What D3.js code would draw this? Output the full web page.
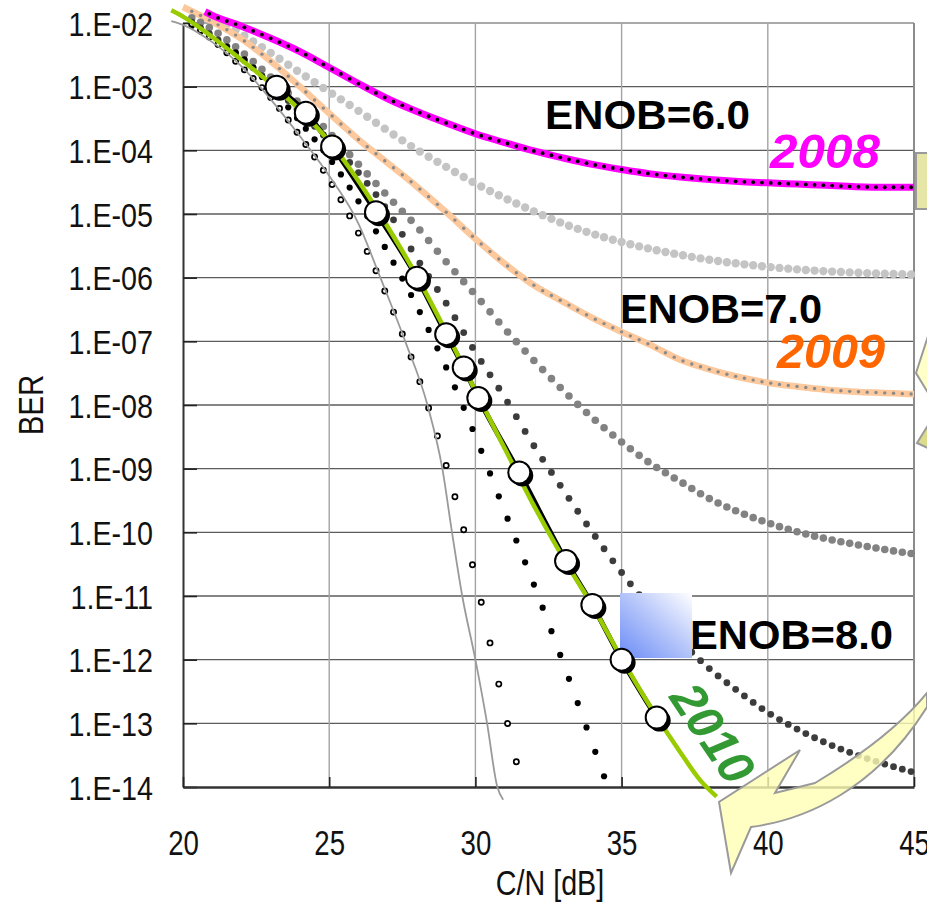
<!DOCTYPE html>
<html><head><meta charset="utf-8">
<script src="https://cdn.jsdelivr.net/npm/d3@7/dist/d3.min.js"></script>
<style>body{margin:0;background:#fff}svg{display:block}</style>
</head><body>
<script>
// ---------------- DATA ----------------
const cnFull = [20,21,22,23,24,25,26,27,28,29,30,31,32,33,34,35,36,37,38,39,40,41,42,43,44,45];

// ENOB=6.0 (2008) – magenta
const enob60_cn  = [20.75,21,22,23,24,25,26,27,28,29,30,31,32,33,34,35,36,37,38,39,40,41,42,43,44,45];
const enob60_ber = [1.51e-2,1.32e-2,8.91e-3,5.75e-3,3.55e-3,2.0e-3,1.12e-3,6.46e-4,4.07e-4,2.69e-4,1.82e-4,1.32e-4,9.77e-5,7.59e-5,6.03e-5,5.01e-5,4.27e-5,3.80e-5,3.47e-5,3.24e-5,3.09e-5,2.95e-5,2.82e-5,2.69e-5,2.63e-5,2.63e-5];

// ENOB=6.5 – light grey dots
const enob65_cn  = [21.5,22,23,24,25,26,27,28,29,30,31,32,33,34,35,36,37,38,39,40,41,42,43,44,45];
const enob65_ber = [9.55e-3,6.76e-3,3.39e-3,1.66e-3,8.32e-4,4.17e-4,2.04e-4,1.02e-4,5.50e-5,3.02e-5,1.78e-5,1.10e-5,7.08e-6,4.90e-6,3.63e-6,2.82e-6,2.29e-6,1.91e-6,1.66e-6,1.48e-6,1.35e-6,1.26e-6,1.20e-6,1.15e-6,1.12e-6];

// ENOB=7.0 (2009) – peach
const enob70_cn  = cnFull;
const enob70_ber = [1.78e-2,1.05e-2,5.62e-3,2.51e-3,1.0e-3,3.80e-4,1.48e-4,6.31e-5,2.69e-5,1.07e-5,4.07e-6,1.66e-6,7.59e-7,4.17e-7,2.34e-7,1.41e-7,8.71e-8,5.13e-8,3.63e-8,2.75e-8,2.24e-8,1.95e-8,1.74e-8,1.62e-8,1.55e-8,1.48e-8];

// ENOB=7.5 – mid grey dots
const enob75_cn  = cnFull;
const enob75_ber = [1.41e-2,7.94e-3,3.55e-3,1.41e-3,5.37e-4,1.91e-4,6.03e-5,1.91e-5,6.31e-6,1.78e-6,5.37e-7,1.58e-7,5.01e-8,1.70e-8,6.31e-9,2.63e-9,1.20e-9,6.31e-10,3.39e-10,2.09e-10,1.41e-10,1.02e-10,7.94e-11,6.46e-11,5.37e-11,4.57e-11];

// ENOB=8.0 – dark grey dots
const enob80_cn  = cnFull;
const enob80_ber = [1.26e-2,6.31e-3,2.82e-3,1.12e-3,3.98e-4,1.41e-4,4.47e-5,1.12e-5,2.0e-6,3.98e-7,6.76e-8,1.32e-8,2.29e-9,4.68e-10,1.0e-10,2.34e-11,6.31e-12,2.0e-12,7.24e-13,3.16e-13,1.48e-13,8.13e-14,4.90e-14,3.24e-14,2.29e-14,1.70e-14];

// ENOB=9.0 – black dots
const enob90_cn  = [20,21,22,23,24,25,26,27,28,29,30,31,32,33,34,34.5];
const enob90_ber = [1.12e-2,5.62e-3,2.95e-3,1.0e-3,2.82e-4,7.59e-5,1.58e-5,2.51e-6,3.55e-7,3.89e-8,3.24e-9,2.14e-10,1.51e-11,8.91e-13,4.79e-14,1.10e-14];

// ideal ADC – open small circles
const ideal_cn  = [20,21,22,23,24,25,26,27,28,29,30,31,31.5];
const ideal_ber = [1.20e-2,5.50e-3,2.04e-3,6.76e-4,1.66e-4,3.47e-5,5.01e-6,4.79e-7,3.16e-8,1.12e-9,2.0e-11,1.58e-13,1.58e-14];

// theory – thin grey line
const theory_cn  = [19.6,20,21,22,23,24,25,26,26.75,27.6,28.36,28.87,29.2,29.55,30.0,30.4,30.75,30.95];
const theory_ber = [1.07e-2,9.33e-3,5.01e-3,2.09e-3,6.31e-4,1.66e-4,3.98e-5,7.08e-6,1e-6,1e-7,1e-8,1e-9,1e-10,1e-11,1e-12,1e-13,1e-14,6.31e-15];

// 2010 – green line
const y2010_cn  = [19.6,20,21,22,23,24,25,26,27,28,29,30,31,32,33,34,35,36,37,37.7,38.25];
const y2010_ber = [1.58e-2,1.26e-2,6.03e-3,2.63e-3,1.12e-3,4.27e-4,1.38e-4,3.31e-5,6.31e-6,1.05e-6,1.41e-7,1.66e-8,2.09e-9,2.63e-10,3.98e-11,7.08e-12,1.05e-12,1.78e-13,3.55e-14,1.26e-14,7.08e-15];

// 2010 – measured points (big circles)
const meas_cn  = [23.2,24.2,25.1,26.6,28.0,29.0,29.6,30.1,31.5,33.1,34.0,35.0,36.2];
const meas_ber = [1.0e-3,3.89e-4,1.15e-4,1.07e-5,1.0e-6,1.29e-7,3.89e-8,1.29e-8,8.71e-10,3.55e-11,7.24e-12,1.0e-12,1.23e-13];

const xTicks = [20,25,30,35,40,45];
const yTicks = [1e-2,1e-3,1e-4,1e-5,1e-6,1e-7,1e-8,1e-9,1e-10,1e-11,1e-12,1e-13,1e-14];
const yTickLabels = ["1.E-02","1.E-03","1.E-04","1.E-05","1.E-06","1.E-07","1.E-08","1.E-09","1.E-10","1.E-11","1.E-12","1.E-13","1.E-14"];
const DOT_STEP = 0.3;

// ---------------- CHART ----------------
const W = 927, H = 902;
const FONT = "'Liberation Sans', Arial, Helvetica, sans-serif";
const svg = d3.select("body").append("svg").attr("width", W).attr("height", H);
const x = d3.scaleLinear().domain([20, 45]).range([183, 914]);
const y = d3.scaleLog().domain([1e-14, 1e-2]).range([787, 23]);
const pair = (c, b) => c.map((v, i) => [v, b[i]]);
const line = d3.line().x(d => x(d[0])).y(d => y(d[1])).curve(d3.curveMonotoneX);

// grid
const grid = svg.append("g");
grid.selectAll(".hg").data(yTicks.slice(1, -1)).join("line")
  .attr("x1", x(20)).attr("x2", x(45)).attr("y1", d => y(d)).attr("y2", d => y(d))
  .attr("stroke", "#5c5c5c").attr("stroke-width", 1.4);
grid.append("line").attr("x1", x(20)).attr("x2", x(45)).attr("y1", y(1e-2)).attr("y2", y(1e-2))
  .attr("stroke", "#8c8c8c").attr("stroke-width", 1.6);
grid.selectAll(".vg").data(xTicks.slice(1, -1)).join("line")
  .attr("x1", d => x(d)).attr("x2", d => x(d)).attr("y1", y(1e-2)).attr("y2", y(1e-14))
  .attr("stroke", "#a3a3a3").attr("stroke-width", 1.4);
grid.append("line").attr("x1", x(45)).attr("x2", x(45)).attr("y1", y(1e-2)).attr("y2", y(1e-14))
  .attr("stroke", "#8c8c8c").attr("stroke-width", 2);

// axes
const yAxis = svg.append("g").attr("transform", `translate(${x(20)},0)`)
  .call(d3.axisLeft(y).tickValues(yTicks).tickFormat((d, i) => yTickLabels[i]).tickSizeInner(-14).tickSizeOuter(0));
yAxis.select(".domain").attr("stroke", "#333").attr("stroke-width", 2);
yAxis.selectAll(".tick line").attr("stroke", "#222").attr("stroke-width", 1.6);
yAxis.selectAll(".tick text").attr("x", 0).attr("dy", null).attr("y", 12)
  .attr("transform", "translate(-30,0) scale(0.87,1)")
  .attr("font-family", FONT).attr("font-size", 33).attr("fill", "#111").attr("text-anchor", "end");

const xAxis = svg.append("g").attr("transform", `translate(0,${y(1e-14)})`)
  .call(d3.axisBottom(x).tickValues(xTicks).tickFormat(d3.format("d")).tickSizeInner(-10).tickSizeOuter(0));
xAxis.select(".domain").attr("stroke", "#333").attr("stroke-width", 2.5);
xAxis.selectAll(".tick line").attr("stroke", "#222").attr("stroke-width", 1.6);
xAxis.selectAll(".tick text").attr("dy", null).attr("y", 68)
  .attr("transform", "scale(0.79,1)")
  .attr("font-family", FONT).attr("font-size", 35).attr("fill", "#111");

svg.append("text").attr("transform", "translate(550,895) scale(0.82,1)")
  .attr("text-anchor", "middle").attr("font-family", FONT).attr("font-size", 35).attr("fill", "#111").text("C/N [dB]");
svg.append("text").attr("transform", "translate(43,405) rotate(-90) scale(0.82,1)")
  .attr("text-anchor", "middle").attr("font-family", FONT).attr("font-size", 36).attr("fill", "#111").text("BER");

// helpers
const plot = svg.append("g");
function dotsAlong(data, r, style) {
  const p = plot.append("path").attr("d", line(data)).attr("fill", "none").attr("stroke", "none");
  const node = p.node(), L = node.getTotalLength();
  const c0 = data[0][0], c1 = data[data.length - 1][0];
  const cs = [];
  for (let k = 1; k < 200; k++) { const c = (200 + 10 * DOT_STEP * k) / 10; if (c > c1 + 1e-9) break; if (c >= c0 - 1e-9) cs.push(c); }
  const pts = cs.map(c => {
    const px = x(c); let lo = 0, hi = L;
    for (let i = 0; i < 40; i++) { const m = (lo + hi) / 2; if (node.getPointAtLength(m).x < px) lo = m; else hi = m; }
    return node.getPointAtLength((lo + hi) / 2);
  });
  const g = plot.append("g");
  g.selectAll("circle").data(pts).join("circle").attr("cx", d => d.x).attr("cy", d => d.y).attr("r", r)
    .attr("fill", style.fill).attr("stroke", style.stroke || "none").attr("stroke-width", style.sw || 0);
}
function drawLine(data, color, width) {
  plot.append("path").attr("d", line(data)).attr("fill", "none").attr("stroke", color)
    .attr("stroke-width", width).attr("stroke-linejoin", "round").attr("stroke-linecap", "butt");
}

// series
dotsAlong(pair(enob65_cn, enob65_ber), 4.2, { fill: "#c4c4c4" });
drawLine(pair(enob70_cn, enob70_ber), "#fcc89c", 6.5);
dotsAlong(pair(enob70_cn, enob70_ber), 1.7, { fill: "#8a8a8a" });
drawLine(pair(enob60_cn, enob60_ber), "#ff00ff", 7);
dotsAlong(pair(enob60_cn, enob60_ber), 1.9, { fill: "#000" });
dotsAlong(pair(enob75_cn, enob75_ber), 3.8, { fill: "#828282" });
dotsAlong(pair(enob80_cn, enob80_ber), 3.4, { fill: "#3c3c3c" });
dotsAlong(pair(enob90_cn, enob90_ber), 3.1, { fill: "#000" });
dotsAlong(pair(ideal_cn, ideal_ber), 2.6, { fill: "#fff", stroke: "#000", sw: 1.7 });
drawLine(pair(theory_cn, theory_ber), "#9a9a9a", 1.8);

// blue square (behind circles)
const defs = svg.append("defs");
const lg = defs.append("linearGradient").attr("id", "bluegrad").attr("x1", "0").attr("y1", "1").attr("x2", "1").attr("y2", "0");
lg.append("stop").attr("offset", "0").attr("stop-color", "#6a8cf6");
lg.append("stop").attr("offset", "0.55").attr("stop-color", "#b9c8fa");
lg.append("stop").attr("offset", "1").attr("stop-color", "#ffffff");
plot.append("rect").attr("x", 620).attr("y", 593).attr("width", 72).attr("height", 65).attr("fill", "url(#bluegrad)");

drawLine(pair(meas_cn, meas_ber), "#000", 5);
drawLine(pair(y2010_cn, y2010_ber), "#99cc00", 4.5);
const meas = pair(meas_cn, meas_ber);
plot.append("g").selectAll("circle").data(meas).join("circle")
  .attr("cx", d => x(d[0]) + 3).attr("cy", d => y(d[1]) + 3).attr("r", 11).attr("fill", "#000");
plot.append("g").selectAll("circle").data(meas).join("circle")
  .attr("cx", d => x(d[0])).attr("cy", d => y(d[1])).attr("r", 11).attr("fill", "#fff")
  .attr("stroke", "#000").attr("stroke-width", 2);

// annotations
const ann = svg.append("g").attr("font-family", FONT).attr("font-weight", "bold");
ann.append("text").attr("x", 545).attr("y", 129).attr("font-size", 40).attr("textLength", 205).attr("lengthAdjust", "spacingAndGlyphs").attr("fill", "#000").text("ENOB=6.0");
ann.append("text").attr("x", 620).attr("y", 323).attr("font-size", 40).attr("textLength", 202).attr("lengthAdjust", "spacingAndGlyphs").attr("fill", "#000").text("ENOB=7.0");
ann.append("text").attr("x", 690).attr("y", 649).attr("font-size", 40).attr("textLength", 203).attr("lengthAdjust", "spacingAndGlyphs").attr("fill", "#000").text("ENOB=8.0");
ann.append("text").attr("x", 770).attr("y", 168).attr("font-size", 49).attr("font-style", "italic").attr("textLength", 110).attr("lengthAdjust", "spacingAndGlyphs").attr("fill", "#ff00ff").text("2008");
ann.append("text").attr("x", 777).attr("y", 368).attr("font-size", 49).attr("font-style", "italic").attr("textLength", 108).attr("lengthAdjust", "spacingAndGlyphs").attr("fill", "#ff6600").text("2009");
ann.append("text").attr("transform", "translate(713,733) rotate(56)").attr("text-anchor", "middle").attr("dy", "0.35em")
  .attr("font-size", 49).attr("font-style", "italic").attr("fill", "#339933").text("2010");

// yellow arrows
const deco = svg.append("g");
deco.append("path")
  .attr("d", "M927,693 C905,720 870,750 815,783 L775,793 L800,750 L719,802 L731,873 L751,827 C805,820 875,790 927,707 Z")
  .attr("fill", "#ffffb4").attr("fill-opacity", 0.8).attr("stroke", "#9a9a9a").attr("stroke-width", 2);
deco.append("rect").attr("x", 916).attr("y", 153).attr("width", 14).attr("height", 56)
  .attr("fill", "#e2e296").attr("fill-opacity", 0.85).attr("stroke", "#9a9a9a").attr("stroke-width", 2);
deco.append("path").attr("d", "M930,330 L916,373 L930,396 Z")
  .attr("fill", "#ffffc8").attr("stroke", "#9a9a9a").attr("stroke-width", 2);
deco.append("path").attr("d", "M930,422 L917,443 L930,449 Z")
  .attr("fill", "#dcdc8c").attr("stroke", "#9a9a9a").attr("stroke-width", 2);
</script>
</body></html>
